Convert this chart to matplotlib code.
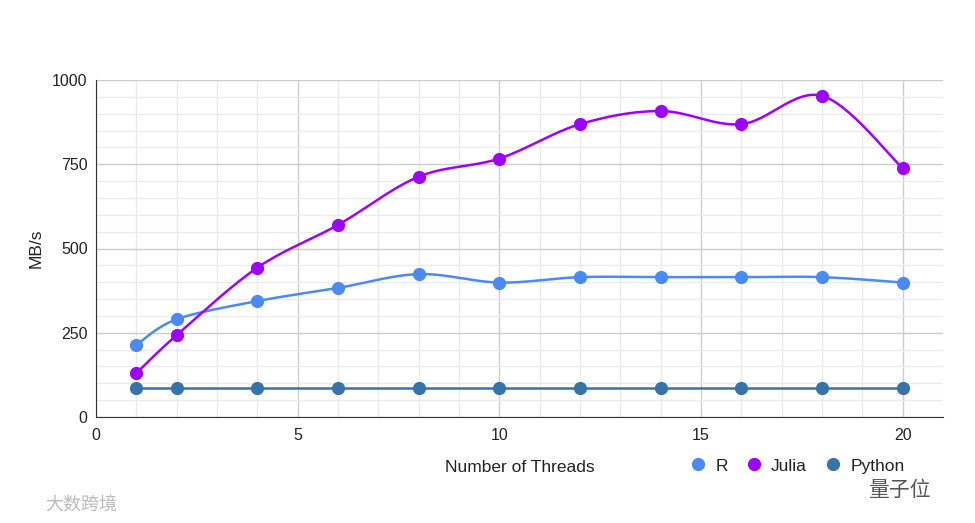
import numpy as np
import matplotlib.pyplot as plt

plt.rcParams['font.family'] = ['Liberation Sans', 'Noto Sans CJK SC', 'DejaVu Sans']

threads = [1, 2, 4, 6, 8, 10, 12, 14, 16, 18, 20]
r_vals = [214, 290, 344, 383, 424, 399, 415, 415, 415, 415, 399]
julia_vals = [130, 243, 443, 570, 713, 767, 869, 908, 869, 953, 738]
python_vals = [85, 85, 85, 85, 85, 85, 85, 85, 85, 85, 85]

series = [("R", r_vals, "#4a8af4"),
          ("Julia", julia_vals, "#9d00ff"),
          ("Python", python_vals, "#3573a8")]


def smooth(x, y, n=30, k=0.5):
    # cubic bezier between points, tangents like a cardinal spline
    x = np.asarray(x, float)
    y = np.asarray(y, float)
    xs, ys = [], []
    for i in range(len(x) - 1):
        x0, y0 = x[i], y[i]
        x3, y3 = x[i + 1], y[i + 1]
        xp, yp = (x[i - 1], y[i - 1]) if i > 0 else (x0, y0)
        xn, yn = (x[i + 2], y[i + 2]) if i + 2 < len(x) else (x3, y3)
        x1 = x0 + (x3 - xp) * k / 3
        y1 = y0 + (y3 - yp) * k / 3
        x2 = x3 - (xn - x0) * k / 3
        y2 = y3 - (yn - y0) * k / 3
        t = np.linspace(0, 1, n)
        xs.append((1-t)**3*x0 + 3*(1-t)**2*t*x1 + 3*(1-t)*t**2*x2 + t**3*x3)
        ys.append((1-t)**3*y0 + 3*(1-t)**2*t*y1 + 3*(1-t)*t**2*y2 + t**3*y3)
    return np.concatenate(xs), np.concatenate(ys)


fig = plt.figure(figsize=(9.75, 5.23), dpi=100)
ax = fig.add_axes([96/975, 106/523, 847/975, 337/523])

for name, vals, col in series:
    sx, sy = smooth(threads, vals)
    ax.plot(sx, sy, color=col, lw=1.8, zorder=3)
    ax.plot(threads, vals, "o", color=col, ms=8.5, zorder=4, label=name)

ax.set_xlim(0, 21)
ax.set_ylim(0, 1000)
ax.set_xticks([0, 5, 10, 15, 20])
ax.set_yticks([0, 250, 500, 750, 1000])
ax.set_xticks(np.arange(0, 21, 1), minor=True)
ax.set_yticks(np.arange(0, 1001, 50), minor=True)
ax.grid(which="major", color="#cccccc", lw=1)
ax.grid(which="minor", color="#ebebeb", lw=1)
ax.tick_params(which="both", length=0, labelsize=11.5, colors="#222222")
ax.tick_params(axis="x", pad=8)
ax.tick_params(axis="y", pad=6)
for s in ["top", "right"]:
    ax.spines[s].set_visible(False)
ax.spines["left"].set_color("#333333")
ax.spines["bottom"].set_color("#333333")
ax.set_axisbelow(True)

ax.set_ylabel("MB/s", fontsize=12.5, color="#222222", labelpad=6)
fig.text(520/975, 1 - 468/523, "Number of Threads", ha="center", va="center",
         fontsize=12.5, color="#222222")

fig.legend(loc="center", bbox_to_anchor=(797/975, 1 - 466/523), ncol=3,
           frameon=False, fontsize=12.5, handlelength=1.0, handletextpad=0.5,
           columnspacing=1.0, labelcolor="#222222")

# watermarks
fig.text(45/975, 1 - 505/523, "大数跨境", fontsize=13, color="#bbbbbb", va="center")
fig.text(868/975, 1 - 490/523, "量子位", fontsize=15, color="#555555", va="center")

fig.savefig("out.png", dpi=100)
